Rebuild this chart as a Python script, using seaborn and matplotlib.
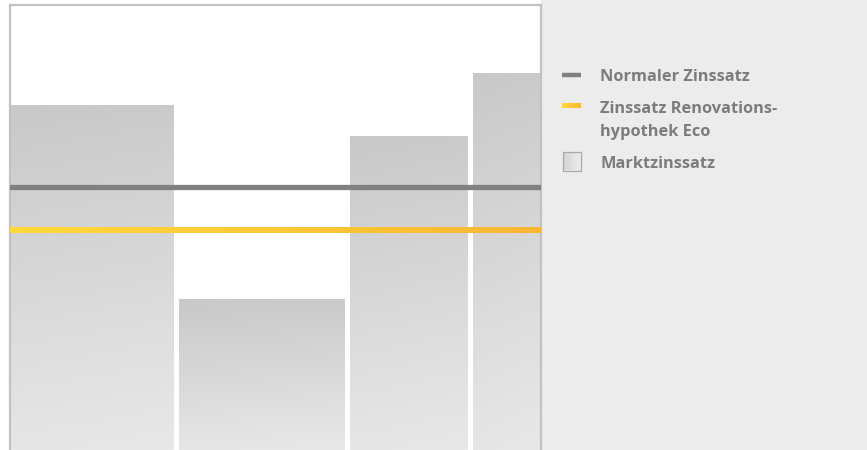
#!/usr/bin/env python3
# coding: utf-8

import numpy as np
import pandas as pd
import matplotlib
matplotlib.use("Agg")
import matplotlib.pyplot as plt
from matplotlib.colors import LinearSegmentedColormap
from matplotlib.patches import Rectangle
import seaborn as sns

# ---data---
# market rate per period (percent), period lengths (relative units)
periods = ["Periode 1", "Periode 2", "Periode 3", "Periode 4"]
markt_zins = [3.45, 1.51, 3.14, 3.77]
period_len = [169, 171, 123, 73]
normal_zins = 2.635
eco_zins = 2.195

labels = ["Normaler Zinssatz", "Zinssatz Renovations-", "hypothek Eco", "Marktzinssatz"]

# ---style---
sns.set_theme(style="white")
plt.rcParams["font.family"] = ["Open Sans", "Liberation Sans", "DejaVu Sans"]

GRAY_LINE = "#808080"
TEXT_GRAY = "#7c7c7c"
PANEL_BG = "#ececec"
BORDER = "#c2c2c2"
bar_cmap = LinearSegmentedColormap.from_list("bar", ["#c7c7c7", "#e9e9e9"])
yellow_cmap = LinearSegmentedColormap.from_list("yel", ["#fed93a", "#f9b733"])

W, H = 867, 450
fig = plt.figure(figsize=(W / 100, H / 100), dpi=100)
fig.patch.set_facecolor("white")

# right legend panel
lax = fig.add_axes([541 / W, 0, 1 - 541 / W, 1])
lax.set_facecolor(PANEL_BG)
lax.add_patch(Rectangle((541, 0), W - 541, H, color=PANEL_BG, zorder=0))

# main chart area
ax = fig.add_axes([10 / W, 0, 531 / W, 445 / H])
ax.set_facecolor("white")

df = pd.DataFrame({"periode": periods, "zins": markt_zins, "laenge": period_len})
df["start"] = df["laenge"].cumsum() - df["laenge"]
gap = 5

bars = ax.bar(df["start"], df["zins"], width=df["laenge"] - gap, align="edge",
              color="none", edgecolor="none", linewidth=0)

# gradient fill of each bar, light toward the bottom
for b in bars:
    x0, y0 = b.get_x(), b.get_y()
    w, h = b.get_width(), b.get_height()
    yy, xx = np.mgrid[0:1:200j, 0:1:50j]
    grad = 1 - yy + 0.08 * xx
    im = ax.imshow(grad, cmap=bar_cmap, vmin=-0.05, vmax=1.1, origin="lower",
                   extent=[x0, x0 + w, y0, y0 + h], aspect="auto", zorder=1)
    im.set_clip_path(b)

# rate lines
ax.axhline(normal_zins, color=GRAY_LINE, lw=3.8, zorder=3)
half = 0.026
ax.imshow(np.linspace(0, 1, 256)[None, :], cmap=yellow_cmap, aspect="auto",
          extent=[0, 531, eco_zins - half, eco_zins + half], zorder=3,
          interpolation="bilinear")

ax.set_xlim(0, 531)
ax.set_ylim(0, 4.45)
ax.set_xticks([])
ax.set_yticks([])
for side in ["left", "top", "right"]:
    ax.spines[side].set_visible(True)
    ax.spines[side].set_color(BORDER)
    ax.spines[side].set_linewidth(1.6)
ax.spines["bottom"].set_visible(False)

# legend, drawn by hand in the side panel (pixel coordinates)
lax.plot([562, 581], [75, 75], color=GRAY_LINE, lw=3.2, solid_capstyle="butt")
lax.imshow(np.linspace(0, 1, 64)[None, :], cmap=yellow_cmap, aspect="auto",
           extent=[562, 581, 108.5, 104], zorder=2, interpolation="bilinear")
box = Rectangle((562.5, 151.5), 18.5, 19, facecolor="none", edgecolor="#a9a9a9", lw=0.9, zorder=3)
lax.add_patch(box)
bim = lax.imshow(np.linspace(0, 1, 20)[None, :] * np.ones((20, 1)),
                 cmap=LinearSegmentedColormap.from_list("b", ["#d4d4d4", "#efefef"]),
                 extent=[562.5, 581, 170.5, 151.5], aspect="auto", zorder=2)
bim.set_clip_path(box)
lax.set_xlim(541, W)
lax.set_ylim(H, 0)
lax.set_axis_off()

font = dict(color=TEXT_GRAY, fontsize=11.8, fontweight="bold", va="baseline", ha="left")
lax.text(600, 81, labels[0], **font)
lax.text(600, 113, labels[1], **font)
lax.text(600, 135.5, labels[2], **font)
lax.text(600, 168.5, labels[3], **font)

fig.savefig("out.png", dpi=100)
